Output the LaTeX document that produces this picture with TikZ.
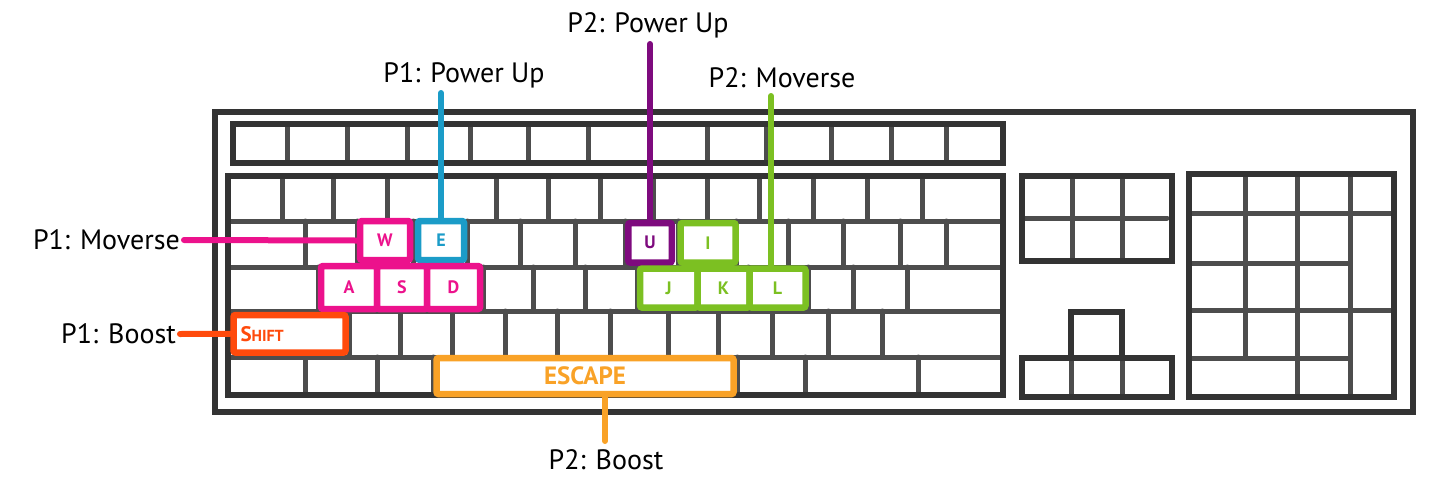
\documentclass[tikz,border=0pt]{standalone}
\usepackage{fontspec}
\setmainfont{PT Sans}
\usepackage{tikz}
\usetikzlibrary{positioning}

\definecolor{kbdark}{HTML}{333333}
\definecolor{kbgrey}{HTML}{4D4D4D}
\definecolor{pinkP}{HTML}{EC128C}
\definecolor{blueP}{HTML}{1B9CC8}
\definecolor{purpP}{HTML}{7E0A7E}
\definecolor{greenP}{HTML}{7CC022}
\definecolor{shiftP}{HTML}{FF4A0C}
\definecolor{escP}{HTML}{F9A227}
\newcommand\lblfnt{\fontsize{28}{30}\selectfont}
\newcommand\keyfnt{\fontsize{18}{20}\selectfont\bfseries}

\begin{document}
\begin{tikzpicture}[x=1pt,y=-1pt,line cap=round,
  frame/.style={draw=kbdark,line width=6pt},
  grid/.style={draw=kbgrey,line width=5pt},
  hot/.style={draw=#1,text=#1,line width=6.5pt,fill=white,inner sep=0pt,
    rounded corners=2pt,font=\keyfnt},
  lbl/.style={font=\lblfnt,inner sep=4pt},
  lead/.style={line width=6pt}]
  \useasboundingbox (0,0) rectangle (1436,483);
  % main block
  \foreach \x in {287,347,407,470,528,588,650,707,766,831,891,946}
    \draw[grid] (\x,124) -- (\x,163);
  \foreach \y in {221,267,311,357} \draw[grid] (228,\y) -- (1003,\y);
  \foreach \ya/\yb/\xs in {176/221/{282,333,387,440,496,548,600,653,707,759,813,867,922},
      221/267/{305,357,413,467,520,575,625,678,736,788,843,900,946},
      267/311/{318,377,427,483,533,585,637,697,748,808,853,907},
      311/357/{349,400,452,505,557,610,668,718,772,828,882},
      357/395/{305,377,433,737,805,918}}
    \foreach \x in \xs \draw[grid] (\x,\ya) -- (\x,\yb);
  \draw[frame] (215,112) rectangle (1413,412);
  \draw[frame] (233,124) rectangle (1003,163);
  \draw[frame] (228,176) rectangle (1003,395);
  % nav + arrows
  \draw[grid] (1022,218) -- (1167,218);
  \foreach \x in {1072,1122} \draw[grid] (\x,176) -- (\x,261);
  \draw[frame] (1022,176) rectangle (1172,261);
  \foreach \x in {1071,1122} \draw[grid] (\x,358) -- (\x,397);
  \draw[frame] (1071,358) -- (1071,312) -- (1122,312) -- (1122,358);
  \draw[frame] (1022,358) rectangle (1172,397);
  % numpad
  \draw[grid] (1189,213) -- (1394,213); \draw[grid] (1189,310) -- (1394,310);
  \draw[grid] (1189,263) -- (1350,263); \draw[grid] (1189,358) -- (1350,358);
  \draw[grid] (1245,174) -- (1245,358);
  \foreach \x in {1297,1350} \draw[grid] (\x,174) -- (\x,397);
  \draw[frame] (1189,174) rectangle (1394,397);

  % player keys
  \node[hot=pinkP,minimum width=50pt,minimum height=39pt] (w) at (385,240.5) {W};
  \node[hot=blueP,minimum width=46pt,minimum height=39pt] (e) at (441,240.5) {E};
  \node[hot=pinkP,minimum width=56pt,minimum height=43pt] (a) at (349,287.5) {A};
  \node[hot=pinkP,minimum width=50pt,minimum height=43pt] (s) at (402,287.5) {S};
  \node[hot=pinkP,minimum width=53pt,minimum height=43pt] (d) at (453.5,287.5) {D};
  \node[hot=purpP,minimum width=43.5pt,minimum height=39.5pt] (u) at (650,242.75) {U};
  \node[hot=greenP,minimum width=55pt,minimum height=39.5pt] (i) at (708,242.75) {I};
  \node[hot=greenP,minimum width=57.5pt,minimum height=39pt] (j) at (668.75,288) {J};
  \node[hot=greenP,minimum width=52pt,minimum height=39pt] (k) at (723.5,288) {K};
  \node[hot=greenP,minimum width=56pt,minimum height=39pt] (l) at (777.5,288) {L};
  \node[hot=shiftP,minimum width=112pt,minimum height=37.5pt,text width=98pt,align=left,
    font=\fontsize{21}{22}\selectfont\bfseries]
    (shift) at (289.5,333.75) {S{\fontsize{16}{18}\selectfont HIFT}};
  \node[hot=escP,minimum width=297pt,minimum height=36pt,font=\fontsize{25}{27}\selectfont\bfseries]
    (esc) at (585,376) {ESCAPE};

  % labels
  \node[lbl,anchor=east] (mv1) at (184,240) {P1: Moverse};
  \node[lbl,anchor=east] (bst1) at (180,334) {P1: Boost};
  \node[lbl] (pw1) at (464,75) {P1: Power Up};
  \node[lbl] (pw2) at (648,25) {P2: Power Up};
  \node[lbl] (mv2) at (782,78) {P2: Moverse};
  \node[lbl] (bst2) at (606,460) {P2: Boost};
  \coordinate (pw1end) at (441,93);
  \coordinate (pw2end) at (650,44);
  \coordinate (mv2end) at (771,96);
  \coordinate (bst2end) at (605,441);
  \draw[lead,pinkP] (mv1.east) -- (w.west);
  \draw[lead,shiftP] (bst1.east) -- (shift.west);
  \draw[lead,blueP] (pw1end) -- (e.north);
  \draw[lead,purpP] (pw2end) -- (u.north);
  \draw[lead,greenP] (mv2end) -- (mv2end |- l.north);
  \draw[lead,escP] (esc.south -| bst2end) -- (bst2end);
\end{tikzpicture}
\end{document}
